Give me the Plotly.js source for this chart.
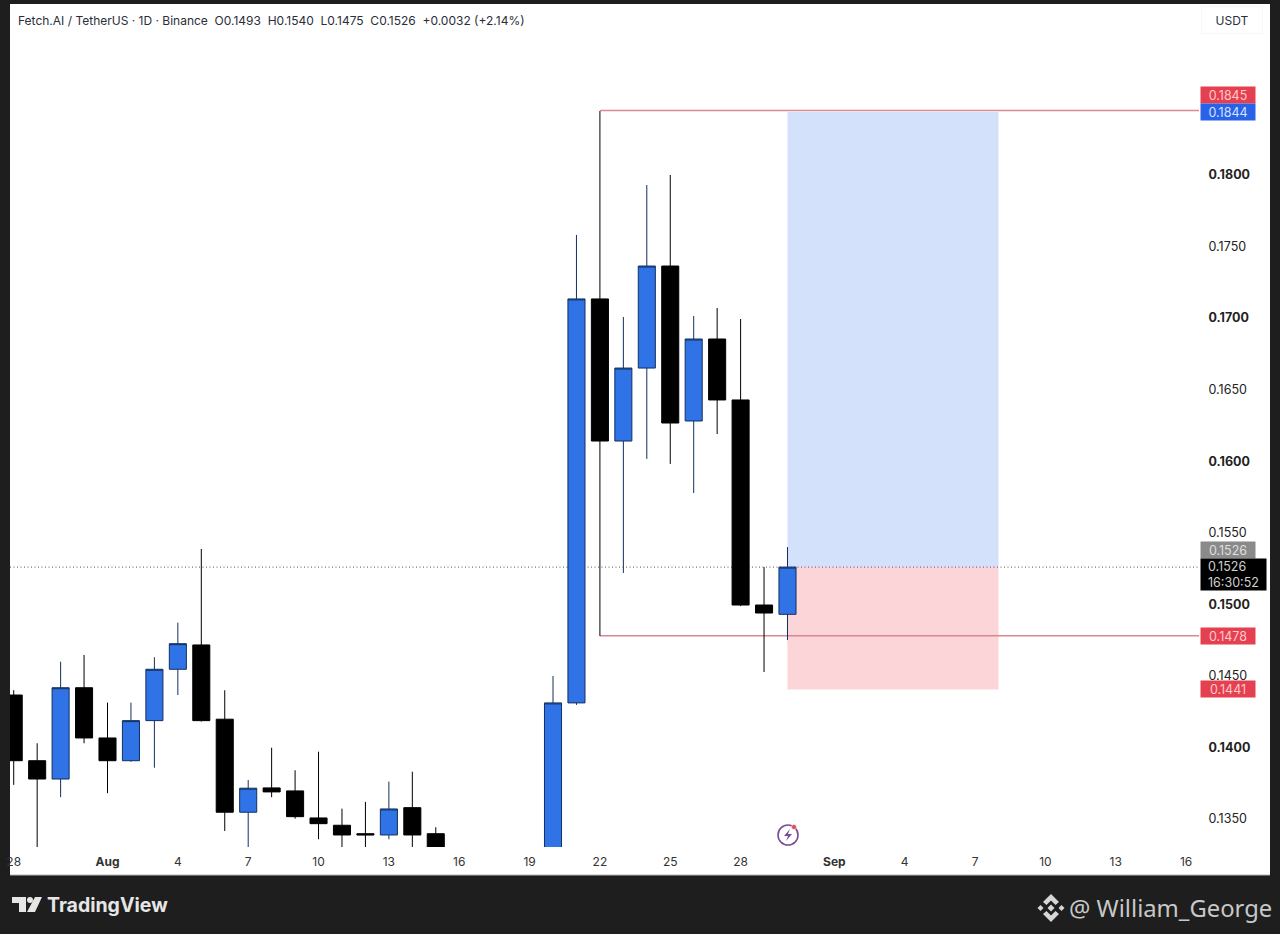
<!DOCTYPE html>
<html><head><meta charset="utf-8">
<script src="https://cdn.plot.ly/plotly-3.0.1.min.js"></script>
<style>html,body{margin:0;padding:0;background:#1e1e1e;overflow:hidden}</style>
</head><body><div id="chart" style="width:1280px;height:934px"></div>
<script>
// Daily candles
const dates = ['2025-07-28','2025-07-29','2025-07-30','2025-07-31','2025-08-01','2025-08-02','2025-08-03','2025-08-04','2025-08-05','2025-08-06','2025-08-07','2025-08-08','2025-08-09','2025-08-10','2025-08-11','2025-08-12','2025-08-13','2025-08-14','2025-08-15','2025-08-20','2025-08-21','2025-08-22','2025-08-23','2025-08-24','2025-08-25','2025-08-26','2025-08-27','2025-08-28','2025-08-29','2025-08-30'];
const opens = [.14366,.13907,.13779,.14417,.14066,.13907,.14187,.14546,.14716,.14197,.13547,.13717,.13696,.13507,.13456,.13397,.13388,.13579,.13397,.13100,.14311,.17134,.16141,.16651,.17364,.16281,.16854,.16428,.14995,.1493];
const highs = [.14400,.14029,.14599,.14646,.14313,.14313,.14630,.14872,.15387,.14399,.13772,.13998,.13840,.13970,.13572,.13619,.13761,.13830,.13442,.14499,.17581,.18447,.17008,.17930,.18000,.17015,.17071,.16994,.15260,.1540];
const lows = [.13738,.13250,.13652,.14029,.13680,.13900,.13858,.14366,.14180,.13416,.13280,.13652,.13502,.13358,.13280,.13280,.13358,.13280,.13250,.13000,.14297,.14779,.15219,.16016,.15981,.15778,.16190,.14988,.14527,.1475];
const closes = [.13907,.13779,.14417,.14066,.13907,.14187,.14546,.14725,.14187,.13547,.13715,.13689,.13516,.13467,.13388,.13388,.13570,.13388,.13280,.14311,.17134,.16141,.16651,.17364,.16267,.16854,.16428,.14995,.14939,.1526];

const xTickDates = ['2025-07-28','2025-08-01','2025-08-04','2025-08-07','2025-08-10','2025-08-13','2025-08-16','2025-08-19','2025-08-22','2025-08-25','2025-08-28','2025-09-01','2025-09-04','2025-09-07','2025-09-10','2025-09-13','2025-09-16'];
const xTickText = ['28','<b>Aug</b>','4','7','10','13','16','19','22','25','28','<b>Sep</b>','4','7','10','13','16'];
const yTickVals = [.135,.14,.145,.15,.155,.16,.165,.17,.175,.18];
const yTickText = ['0.1350','<b>0.1400</b>','0.1450','<b>0.1500</b>','0.1550','<b>0.1600</b>','0.1650','<b>0.1700</b>','0.1750','<b>0.1800</b>'];

const lastClose = 0.1526, targetPrice = 0.1844, stopPrice = 0.14405, rangeHigh = 0.1845, rangeLow = 0.1478;
const rangeStart = '2025-08-22', posStart = '2025-08-30', posEnd = '2025-09-08';
const xRange = ['2025-07-27 20:12','2025-09-16 13:12'];
const yRange = [0.13304,0.19195];

const L=10,R=1199,T=4,B=847;
const px=x=>(x-L)/(R-L), py=y=>(B-y)/(B-T);
const P=(s)=>s.replace(/(-?[\d.]+) (-?[\d.]+)/g,(m,a,b)=>px(+a).toFixed(5)+' '+py(+b).toFixed(5));
const pShape=(path,fill,extra)=>Object.assign({type:'path',xref:'paper',yref:'paper',path:P(path),fillcolor:fill,line:{width:0},layer:'above'},extra||{});
const circle=(cx,cy,r,fill,line)=>({type:'circle',xref:'paper',yref:'paper',x0:px(cx-r),x1:px(cx+r),y0:py(cy+r),y1:py(cy-r),fillcolor:fill,line:line||{width:0},layer:'above'});
const dia=(cx,cy,r)=>`M ${cx-r} ${cy} L ${cx} ${cy-r} L ${cx+r} ${cy} L ${cx} ${cy+r} Z`;

const tagFont={family:'Inter, Roboto, sans-serif',size:12.5};
const tag=(price,txt,bg,color,shift,w,h,align)=>({xref:'paper',yref:'y',x:px(1200),y:price,xanchor:'left',yanchor:'middle',yshift:shift,text:txt,showarrow:false,bgcolor:bg,width:w||54,height:h||16,align:align||'center',borderpad:0,font:Object.assign({},tagFont,{color:color})});

const shapes=[
 {type:'rect',xref:'paper',yref:'paper',x0:px(10),x1:px(1270),y0:py(875),y1:py(4),fillcolor:'#ffffff',line:{width:0},layer:'below'},
 {type:'rect',xref:'x',yref:'y',x0:posStart,x1:posEnd,y0:lastClose,y1:targetPrice,fillcolor:'#d3e1fb',line:{width:0},layer:'below'},
 {type:'rect',xref:'x',yref:'y',x0:posStart,x1:posEnd,y0:stopPrice,y1:lastClose,fillcolor:'#fbd5d8',line:{width:0},layer:'below'},
 {type:'line',xref:'x',yref:'y',x0:xRange[0],x1:xRange[1],y0:lastClose,y1:lastClose,line:{color:'#555',width:1,dash:'1px,2.5px'},layer:'below'},
 {type:'line',xref:'x',yref:'y',x0:rangeStart,x1:xRange[1],y0:rangeHigh,y1:rangeHigh,line:{color:'#d98791',width:1.5},layer:'below'},
 {type:'line',xref:'x',yref:'y',x0:rangeStart,x1:xRange[1],y0:rangeLow,y1:rangeLow,line:{color:'#d98791',width:1.5},layer:'below'},
 {type:'line',xref:'paper',yref:'paper',x0:px(10),x1:px(1270),y0:py(875),y1:py(875),line:{color:'#b5b5b5',width:1},layer:'below'},
 // TradingView logo
 pShape('M 12 897 L 26 897 L 26 912 L 19 912 L 19 903 L 12 903 Z','#e6e6e6'),
 circle(30,900,3,'#e6e6e6'),
 pShape('M 35 897 L 42 897 L 35 912 L 27 912 Z','#e6e6e6'),
 // Binance logo
 pShape(dia(1051,908,3.5),'#d6d6d6'),
 pShape(dia(1040.5,908,3),'#d6d6d6'),
 pShape(dia(1061.5,908,3),'#d6d6d6'),
 pShape('M 1051 894 L 1059 902 L 1055.5 905 L 1051 900.5 L 1046.5 905 L 1043 902 Z','#d6d6d6'),
 pShape('M 1051 922 L 1059 914 L 1055.5 911 L 1051 915.5 L 1046.5 911 L 1043 914 Z','#d6d6d6'),
 // flash icon
 circle(788,835,10,'rgba(255,255,255,0)',{color:'#7a4c96',width:1.6}),
 pShape('M 790 829 L 784 836 L 788 836 L 786 841 L 792 834 L 788 834 Z','#7a4c96'),
 circle(794,827,2.5,'#d9505c',{color:'#ffffff',width:0.5})
];

const annotations=[
 {xref:'paper',yref:'paper',x:px(16),y:py(20),xanchor:'left',yanchor:'middle',showarrow:false,
  text:'Fetch.AI / TetherUS · 1D · Binance\u00a0\u00a0O0.1493\u00a0\u00a0H0.1540\u00a0\u00a0L0.1475\u00a0\u00a0C0.1526\u00a0\u00a0+0.0032 (+2.14%)',
  font:{family:'Inter, Roboto, sans-serif',size:12,color:'#2a2e39'}},
 {xref:'paper',yref:'paper',x:px(1232),y:py(20),xanchor:'center',yanchor:'middle',showarrow:false,text:'USDT',
  font:{family:'Inter, Roboto, sans-serif',size:12,color:'#2a2e39'},bgcolor:'#ffffff',bordercolor:'#f7f7f7',borderwidth:1,width:58,height:24},
 tag(rangeHigh,'0.1845','#e5404f','#ffc9ce',16),
 tag(targetPrice,'0.1844','#2962e6','#d5e2ff',0),
 tag(lastClose,'0.1526','#8a8a8a','#dedede',17),
 tag(lastClose,'\u00a0\u00a00.1526<br>\u00a0\u00a016:30:52','#000000','#cfcfcf',-7,65,31,'left'),
 tag(rangeLow,'0.1478','#e5404f','#ffc9ce',0),
 tag(stopPrice,'0.1441','#e5404f','#ffc9ce',0),
 {xref:'paper',yref:'paper',x:px(45),y:py(905),xanchor:'left',yanchor:'middle',showarrow:false,text:'<b>TradingView</b>',font:{family:'Inter, Roboto, sans-serif',size:19.5,color:'#e6e6e6'}},
 {xref:'paper',yref:'paper',x:px(1274),y:py(908),xanchor:'right',yanchor:'middle',showarrow:false,text:'@ William_George',font:{family:'Noto Sans, sans-serif',size:23.8,color:'#c8c8c8'}}
];

const trace={type:'candlestick',x:dates,open:opens,high:highs,low:lows,close:closes,
 whiskerwidth:0,hoverinfo:'skip',showlegend:false,
 increasing:{fillcolor:'#2f73e6',line:{color:'#12305e',width:1}},
 decreasing:{fillcolor:'#000000',line:{color:'#000000',width:1}}};

Plotly.newPlot('chart',[trace],{
 width:1280,height:934,autosize:false,
 margin:{l:L,r:1280-R,t:T,b:934-B,pad:0},
 paper_bgcolor:'#1e1e1e',plot_bgcolor:'rgba(0,0,0,0)',
 boxgap:0.25,boxgroupgap:0.03,showlegend:false,
 xaxis:{type:'date',range:xRange,rangeslider:{visible:false},showgrid:false,zeroline:false,showline:false,
  tickmode:'array',tickvals:xTickDates,ticktext:xTickText,ticks:'outside',ticklen:4,tickcolor:'rgba(0,0,0,0)',
  tickfont:{family:'Inter, Roboto, sans-serif',size:12,color:'#333'}},
 yaxis:{side:'right',range:yRange,showgrid:false,zeroline:false,showline:false,
  tickmode:'array',tickvals:yTickVals,ticktext:yTickText,ticks:'outside',ticklen:6,tickcolor:'rgba(0,0,0,0)',
  tickfont:{family:'Inter, Roboto, sans-serif',size:12.5,color:'#222'}},
 shapes:shapes,annotations:annotations
},{displayModeBar:false,staticPlot:true});
</script></body></html>
